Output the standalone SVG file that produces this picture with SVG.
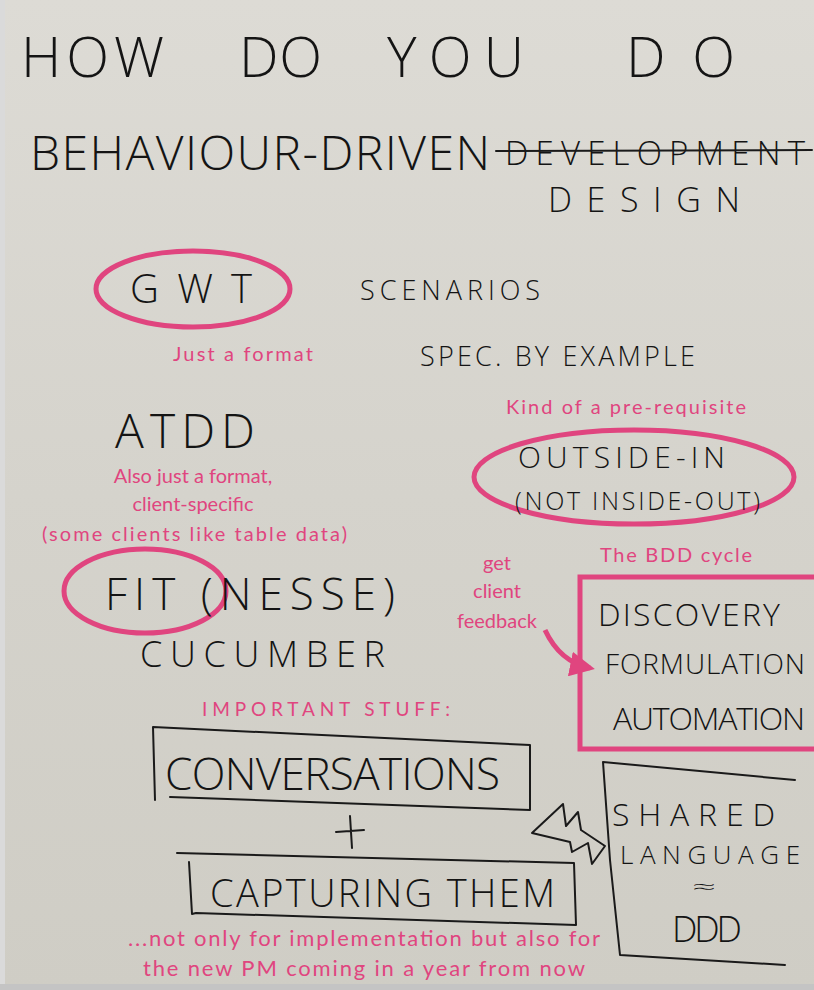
<svg xmlns="http://www.w3.org/2000/svg" width="814" height="990" viewBox="0 0 814 990">
<defs>
<linearGradient id="paper" x1="0" y1="0" x2="0" y2="1">
<stop offset="0" stop-color="#dddbd5"/>
<stop offset="0.5" stop-color="#d5d3cc"/>
<stop offset="1" stop-color="#cfcdc5"/>
</linearGradient>
<marker id="pinkhead" viewBox="0 0 10 10" refX="8" refY="5" markerWidth="5" markerHeight="5" orient="auto">
<path d="M0,0 L10,5 L0,10 z" fill="#e0457f"/>
</marker>
</defs>
<style>
.ink{font-family:"Open Sans","Liberation Sans",sans-serif;font-weight:300;fill:#141414}
.pink{font-family:"Lato","Noto Sans","Liberation Sans",sans-serif;fill:#e0457f}
.pinkline{fill:none;stroke:#e0457f;stroke-width:5}
.pen{fill:none;stroke:#1a1a1a;stroke-width:2;stroke-linecap:round;stroke-linejoin:round}
</style>
<rect x="0" y="0" width="814" height="990" fill="url(#paper)"/>
<rect x="0" y="0" width="5" height="990" fill="#dadada"/>
<rect x="0" y="984" width="814" height="6" fill="#c4c4c4"/>

<g id="title">
<text class="ink" x="21" y="77" font-size="56" textLength="143" lengthAdjust="spacing">HOW</text>
<text class="ink" x="239" y="77" font-size="56" textLength="83" lengthAdjust="spacing">DO</text>
<text class="ink" x="387" y="77" font-size="56" textLength="137" lengthAdjust="spacing">YOU</text>
<text class="ink" x="626" y="77" font-size="56" textLength="109" lengthAdjust="spacing">DO</text>
<text class="ink" x="30" y="170" font-size="48" textLength="460" lengthAdjust="spacing">BEHAVIOUR-DRIVEN</text>
<text class="ink" x="505" y="165" font-size="33" textLength="300" lengthAdjust="spacing">DEVELOPMENT</text>
<path class="pen" d="M496,151 L812,150" stroke-width="3"/>
<text class="ink" x="548" y="212" font-size="34" textLength="192" lengthAdjust="spacing">DESIGN</text>
</g>

<g id="gwt">
<ellipse class="pinkline" cx="193" cy="289" rx="97" ry="38"/>
<text class="ink" x="130" y="303" font-size="40" textLength="122" lengthAdjust="spacing">GWT</text>
<text class="pink" x="173" y="361" font-size="20" textLength="140" lengthAdjust="spacing">Just a format</text>
</g>

<g id="scenarios">
<text class="ink" x="360" y="300" font-size="27" textLength="180" lengthAdjust="spacing">SCENARIOS</text>
</g>

<g id="spec">
<text class="ink" x="420" y="366" font-size="27" textLength="275" lengthAdjust="spacing">SPEC. BY EXAMPLE</text>
</g>

<g id="atdd">
<text class="ink" x="115" y="448" font-size="48" textLength="140" lengthAdjust="spacing">ATDD</text>
<text class="pink" x="193" y="483" font-size="20" text-anchor="middle">Also just a format,</text>
<text class="pink" x="193" y="511" font-size="20" text-anchor="middle">client-specific</text>
<text class="pink" x="42" y="541" font-size="20" textLength="305" lengthAdjust="spacing">(some clients like table data)</text>
</g>

<g id="outside-in">
<text class="pink" x="506" y="414" font-size="20" textLength="240" lengthAdjust="spacing">Kind of a pre-requisite</text>
<ellipse class="pinkline" cx="634" cy="477" rx="160" ry="47"/>
<text class="ink" x="518" y="468" font-size="30" textLength="207" lengthAdjust="spacing">OUTSIDE-IN</text>
<text class="ink" x="515" y="510" font-size="25" textLength="245" lengthAdjust="spacing">(NOT INSIDE-OUT)</text>
</g>

<g id="fit">
<ellipse class="pinkline" cx="145" cy="591" rx="81" ry="42"/>
<text class="ink" x="105" y="610" font-size="44" textLength="290" lengthAdjust="spacing">FIT (NESSE)</text>
<text class="ink" x="140" y="667" font-size="36" textLength="245" lengthAdjust="spacing">CUCUMBER</text>
</g>

<g id="feedback">
<text class="pink" x="497" y="570" font-size="20" text-anchor="middle">get</text>
<text class="pink" x="497" y="598" font-size="20" text-anchor="middle">client</text>
<text class="pink" x="497" y="628" font-size="20" text-anchor="middle">feedback</text>
</g>

<g id="bdd-cycle">
<text class="pink" x="600" y="562" font-size="20" textLength="152" lengthAdjust="spacing">The BDD cycle</text>
<path class="pinkline" d="M814,577 L580,577 L580,749 L814,749"/>
<text class="ink" x="598" y="626" font-size="32" textLength="182" lengthAdjust="spacing">DISCOVERY</text>
<text class="ink" x="605" y="674" font-size="28" textLength="200" lengthAdjust="spacing">FORMULATION</text>
<text class="ink" x="613" y="730" font-size="32" textLength="192" lengthAdjust="spacing">AUTOMATION</text>
</g>

<g id="important">
<text class="pink" x="202" y="716" font-size="19" textLength="248" lengthAdjust="spacing">IMPORTANT STUFF:</text>
</g>

<g id="conversations">
<path class="pen" d="M153,727 L530,745 L530,810 M153,727 L155,800 M170,797 L530,810"/>
<text class="ink" x="165" y="790" font-size="44" textLength="335" lengthAdjust="spacing">CONVERSATIONS</text>
</g>

<g id="plus">
<path class="pen" d="M336,832 L364,830 M350,816 L352,848"/>
</g>

<g id="capturing">
<path class="pen" d="M177,853 L574,863 L576,925 M189,862 L192,914 L196,913 L576,925"/>
<text class="ink" x="210" y="907" font-size="38" textLength="345" lengthAdjust="spacing">CAPTURING THEM</text>
</g>

<g id="shared">
<path class="pen" d="M603,762 L795,780 M603,762 L610,860 L620,955 L785,965"/>
<text class="ink" x="612" y="826" font-size="32" textLength="163" lengthAdjust="spacing">SHARED</text>
<text class="ink" x="620" y="864" font-size="26" textLength="180" lengthAdjust="spacing">LANGUAGE</text>
<text class="ink" x="692" y="894" font-size="20" textLength="24" lengthAdjust="spacingAndGlyphs">≈</text>
<text class="ink" x="672" y="942" font-size="36" textLength="70" lengthAdjust="spacing">DDD</text>
</g>

<g id="connectors">
<path class="pen" d="M532,833 L563,804 L566,826 L578,812 L581,830 L605,846 L592,864 L588,843 L572,852 L570,842 Z"/>
<path d="M545,630 Q560,662 590,668" fill="none" stroke="#e0457f" stroke-width="5" marker-end="url(#pinkhead)"/>
</g>

<g id="footnote">
<text class="pink" x="128" y="946" font-size="22" textLength="472" lengthAdjust="spacing">...not only for implementation but also for</text>
<text class="pink" x="143" y="976" font-size="22" textLength="442" lengthAdjust="spacing">the new PM coming in a year from now</text>
</g>
</svg>
